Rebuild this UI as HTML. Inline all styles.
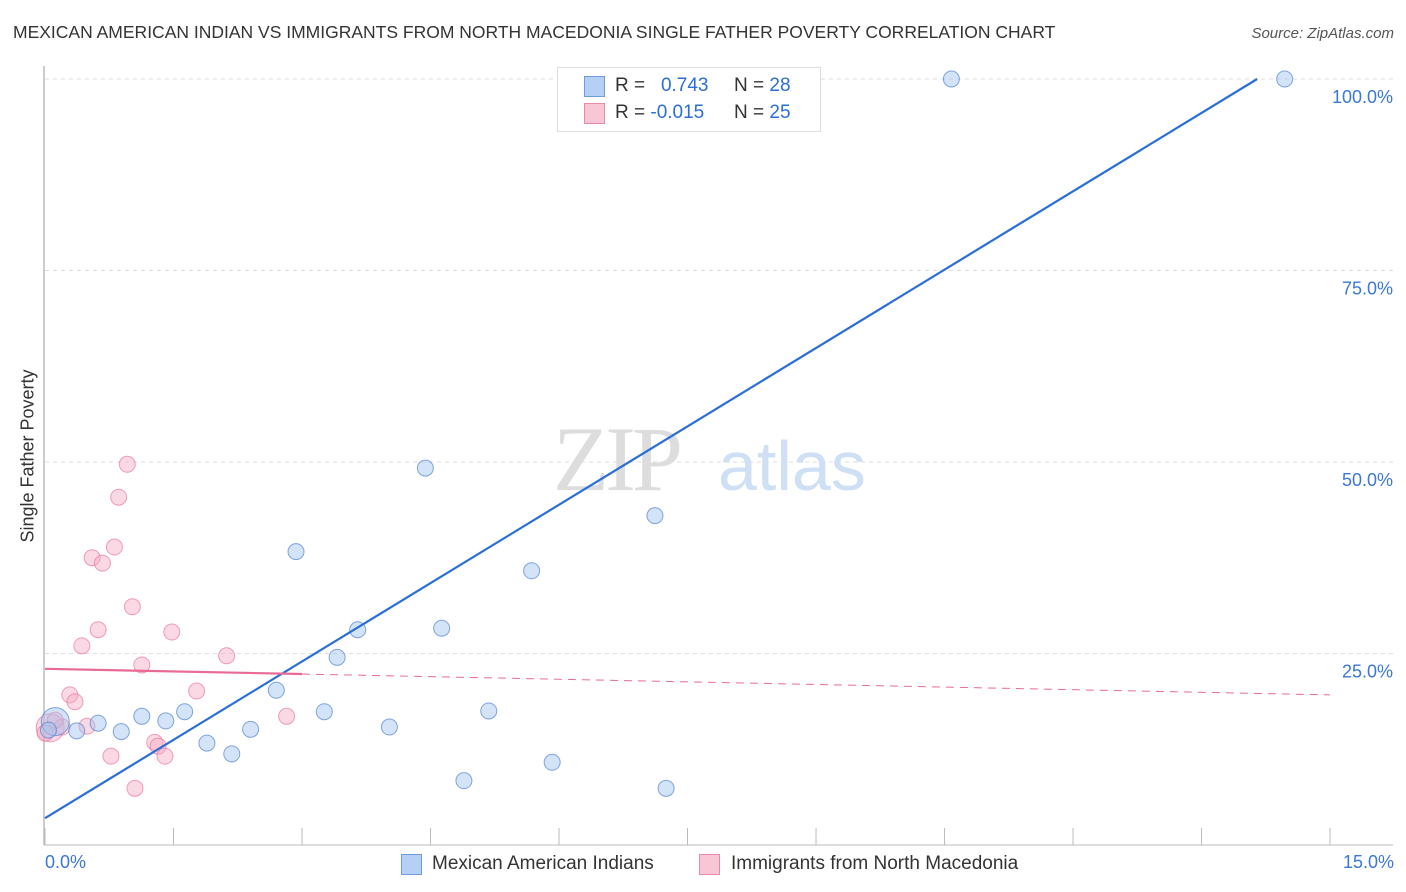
<!DOCTYPE html>
<html><head><meta charset="utf-8">
<style>
body{margin:0;background:#fff;font-family:"Liberation Sans",sans-serif;}
#wrap{position:relative;width:1406px;height:892px;overflow:hidden;}
.t{position:absolute;white-space:nowrap;}
</style></head>
<body>
<div id="wrap">
<div class="t" style="left:13px;top:22px;font-size:17.5px;color:#333;">MEXICAN AMERICAN INDIAN VS IMMIGRANTS FROM NORTH MACEDONIA SINGLE FATHER POVERTY CORRELATION CHART</div>
<div class="t" style="right:12px;top:25px;font-size:15px;color:#555;font-style:italic;">Source: ZipAtlas.com</div>
<svg id="plot" width="1406" height="892" style="position:absolute;left:0;top:0"></svg>
</div>
<script>
const blueX=[0.12,0.37,0.62,0.89,1.13,1.41,1.63,1.89,2.18,2.40,2.70,2.93,3.26,3.41,3.65,4.02,4.44,4.63,4.89,5.18,5.68,5.92,7.12,7.25,8.11,10.58,14.47,0.04];
const blueY=[16.1,14.9,15.9,14.8,16.8,16.2,17.4,13.3,11.9,15.1,20.2,38.3,17.4,24.5,28.1,15.4,49.2,28.3,8.4,17.5,35.8,10.8,43.0,7.4,100,100,100,15.0];
const pinkX=[0.06,0.20,0.29,0.35,0.43,0.49,0.55,0.62,0.67,0.77,0.81,0.86,0.96,1.02,1.05,1.13,1.28,1.32,1.40,1.48,1.77,2.12,2.82,0.12,0.0];
const pinkY=[15.3,15.4,19.6,18.7,26.0,15.5,37.5,28.1,36.8,11.6,38.9,45.4,49.7,31.1,7.4,23.5,13.4,12.9,11.6,27.8,20.1,24.7,16.8,16.3,14.6];
const yTicks=[25,50,75,100];
const yTickLabels=["25.0%","50.0%","75.0%","100.0%"];
const xTicks=[0,1.5,3,4.5,6,7.5,9,10.5,12,13.5,15];
const blueLine=[3.5,6.82]; // intercept, slope
const pinkLine=[23.0,-0.227];
const NS="http://www.w3.org/2000/svg";
const sx=v=>45+v*85.67, sy=v=>845-v*7.66;
const svg=document.getElementById('plot');
function mk(t,a){const e=document.createElementNS(NS,t);for(const k in a)e.setAttribute(k,a[k]);svg.appendChild(e);return e;}
// gridlines
yTicks.forEach((v,i)=>{
 const g=mk('line',{x1:45,x2:1393,y1:sy(v),y2:sy(v),stroke:'#ddd','stroke-dasharray':'4,4'});
 
 
 const t=mk('text',{x:1393,y:sy(v)+24,'text-anchor':'end','font-size':18,fill:'#3a78d4','font-family':'Liberation Sans, sans-serif'});
 t.textContent=yTickLabels[i];
 
 
});
const ax=mk('line',{x1:44,x2:44,y1:66,y2:845,stroke:'#bbb','stroke-width':1.5});


const bx=mk('line',{x1:44,x2:1393,y1:845,y2:845,stroke:'#bbb','stroke-width':1});


xTicks.forEach(v=>{
 const l=mk('line',{x1:sx(v),x2:sx(v),y1:828,y2:845,stroke:'#bbb'});
 
 
});
// watermark
const w1=mk('text',{x:553,y:490,'font-size':92,fill:'#ddd','font-family':'Liberation Serif, serif','letter-spacing':-4});
w1.textContent='ZIP';


const w2=mk('text',{x:718,y:490,'font-size':70,fill:'#cfe0f5','font-family':'Liberation Sans, sans-serif'});
w2.textContent='atlas';


// points
pinkX.forEach((x,i)=>{
 const c=mk('circle',{cx:sx(x),cy:sy(pinkY[i]),r:i===0?14:8,fill:'rgba(246,170,195,0.45)',stroke:'rgba(232,120,160,0.7)','stroke-width':1});
 
 
});
blueX.forEach((x,i)=>{
 const c=mk('circle',{cx:sx(x),cy:sy(blueY[i]),r:i===0?14:8,fill:'rgba(160,195,240,0.45)',stroke:'rgba(80,130,210,0.7)','stroke-width':1});
 
 
});
// trend lines
const xEnd=(100-blueLine[0])/blueLine[1];
const bl=mk('line',{x1:sx(0),y1:sy(blueLine[0]),x2:sx(xEnd),y2:sy(100),stroke:'#2a6fd6','stroke-width':2.2});


const pl=mk('line',{x1:sx(0),y1:sy(pinkLine[0]),x2:sx(3),y2:sy(pinkLine[0]+3*pinkLine[1]),stroke:'#e86a95','stroke-width':2.2});


const pd=mk('line',{x1:sx(3),y1:sy(pinkLine[0]+3*pinkLine[1]),x2:sx(15),y2:sy(pinkLine[0]+15*pinkLine[1]),stroke:'#e86a95','stroke-width':1,'stroke-dasharray':'8,6'});


</script>
<div class="t" style="left:28px;top:456px;font-size:18px;color:#333;transform:translate(-50%,-50%) rotate(-90deg);">Single Father Poverty</div>
<div class="t" style="left:45px;top:852px;font-size:18px;color:#3a78d4;">0.0%</div>
<div class="t" style="right:12px;top:852px;font-size:18px;color:#3a78d4;">15.0%</div>
<div style="position:absolute;left:557px;top:67px;width:262px;height:63px;border:1px solid #ddd;background:#fff;">
 <div style="position:absolute;left:26px;top:8px;width:19px;height:19px;background:#b6d0f5;border:1px solid #6c9be0;"></div>
 <div class="t" style="left:57px;top:7px;font-size:19px;color:#333;">R = &nbsp;&nbsp;<span style="color:#2a6fd6">0.743</span></div>
 <div class="t" style="left:176px;top:7px;font-size:19px;color:#333;">N = <span style="color:#2a6fd6">28</span></div>
 <div style="position:absolute;left:26px;top:35px;width:19px;height:19px;background:#f9c6d6;border:1px solid #e88aa8;"></div>
 <div class="t" style="left:57px;top:34px;font-size:19px;color:#333;">R = <span style="color:#2a6fd6">-0.015</span></div>
 <div class="t" style="left:176px;top:34px;font-size:19px;color:#333;">N = <span style="color:#2a6fd6">25</span></div>
</div>
<div>
 <div style="position:absolute;left:401px;top:854px;width:19px;height:19px;background:#b6d0f5;border:1px solid #6c9be0;"></div>
 <div class="t" style="left:432px;top:853px;font-size:19px;color:#333;">Mexican American Indians</div>
 <div style="position:absolute;left:699px;top:854px;width:19px;height:19px;background:#f9c6d6;border:1px solid #e88aa8;"></div>
 <div class="t" style="left:731px;top:853px;font-size:19px;color:#333;">Immigrants from North Macedonia</div>
</div>
</body></html>
